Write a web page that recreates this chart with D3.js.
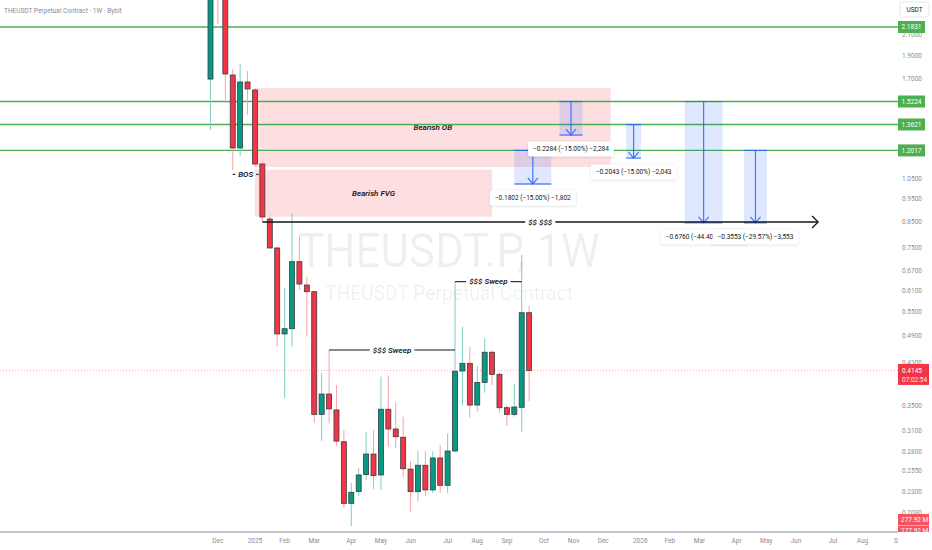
<!DOCTYPE html>
<html>
<head>
<meta charset="utf-8">
<script src="https://cdn.jsdelivr.net/npm/d3@7"></script>
<style>
  html, body { margin: 0; padding: 0; background: #ffffff; }
  svg { display: block; font-family: Roboto, "Liberation Sans", Arial, sans-serif; }
</style>
</head>
<body>
<script>
// ---------------- DATA ----------------
const firstWeek = "2024-11-25";             // Monday of the first weekly bar
const opens  = [1.697, 3.2, 2.6, 1.7308, 1.2158, 1.6731, 1.6096, 1.1252, 0.8624, 0.7495,
                0.4945, 0.5072, 0.7014, 0.6266, 0.6067, 0.3351, 0.3698, 0.3424, 0.2936, 0.2179,
                0.2306, 0.2504, 0.2766, 0.2500, 0.3435, 0.3122, 0.3000, 0.2572, 0.2306, 0.2620,
                0.2325, 0.2714, 0.2378, 0.2807, 0.4133, 0.4290, 0.3506, 0.3912, 0.4526, 0.4067,
                0.3461, 0.3351, 0.3468, 0.5480];
const highs  = [3.5, 3.9, 2.8, 1.7817, 1.8253, 1.7646, 1.6253, 1.14, 0.8791, 0.753,
                0.6176, 0.8877, 0.7942, 0.6523, 0.608, 0.4089, 0.4576, 0.3862, 0.3107, 0.2404,
                0.2585, 0.3076, 0.3107, 0.4022, 0.4041, 0.3552, 0.3314, 0.2674, 0.2807, 0.2804,
                0.2802, 0.2890, 0.3057, 0.6368, 0.5122, 0.4637, 0.4235, 0.4842, 0.457, 0.411,
                0.350, 0.3882, 0.7246, 0.5661];
const lows   = [1.3265, 2.215, 1.5334, 1.0929, 1.1695, 1.4262, 1.1090, 0.8499, 0.747, 0.4650,
                0.3626, 0.4650, 0.6117, 0.4879, 0.3218, 0.2950, 0.3209, 0.2875, 0.2130, 0.1952,
                0.2257, 0.244, 0.2336, 0.2325, 0.2866, 0.2845, 0.2478, 0.2092, 0.2207, 0.2257,
                0.2291, 0.2291, 0.2289, 0.279, 0.3506, 0.3297, 0.3395, 0.3722, 0.3862, 0.3377,
                0.3168, 0.3314, 0.3081, 0.3576];
const closes = [3.2, 2.6, 1.739, 1.2158, 1.6731, 1.6173, 1.1252, 0.8707, 0.7495, 0.4945,
                0.5072, 0.7014, 0.6296, 0.6067, 0.3351, 0.3698, 0.3441, 0.2945, 0.2179, 0.2299,
                0.2500, 0.2766, 0.2491, 0.3435, 0.3122, 0.3008, 0.2576, 0.2306, 0.2620, 0.2325,
                0.2714, 0.2378, 0.2807, 0.4128, 0.4290, 0.3506, 0.3912, 0.4526, 0.4067, 0.3461,
                0.3351, 0.3473, 0.5480, 0.4145];

const priceTicks = [2.1000, 1.9000, 1.7000, 1.0500, 0.9500, 0.8500, 0.7500, 0.6700, 0.6100,
                    0.5500, 0.4900, 0.4300, 0.3500, 0.3100, 0.2800, 0.2550, 0.2300, 0.2080];
const keyLevels = [2.1831, 1.5224, 1.3621, 1.2017];
const monthLabels = ["Dec","2025","Feb","Mar","Apr","May","Jun","Jul","Aug","Sep","Oct","Nov",
                     "Dec","2026","Feb","Mar","Apr","May","Jun","Jul","Aug","Sep"];
const lastPrice = 0.4145;
const countdown = "07:02:54";
const volumeLabel = "277.92 M";

// zones
const zoneLabels = ["Bearish OB", "Bearish FVG"];
const zoneFrom   = [6, 6];
const zoneTo     = [54, 38];
const zoneTop    = [1.625, 1.095];
const zoneBottom = [1.109, 0.872];

// horizontal marks: label, level, fromBar, toBar
const markLabels = ["BOS", "$$$ Sweep", "$$$ Sweep", "$$ $$$"];
const markLevel  = [1.07, 0.4576, 0.6368, 0.8499];
const markFrom   = [3, 16, 33, 7];
const markTo     = [6.5, 33, 42, 82];

// projection tools (short positions): entry, target, fromBar, toBar
const projEntry  = [1.2017, 1.5224, 1.3621, 1.5224, 1.2017];
const projTarget = [1.0215, 1.2940, 1.1578, 0.8464, 0.8464];
const projFrom   = [41, 47.1, 56.1, 64, 72];
const projTo     = [46, 50.2, 58.1, 69.1, 75.1];

// ---------------- LAYOUT ----------------
const W = 932, H = 550;
const plotR = 898, plotB = 532;

const svg = d3.select("body").append("svg").attr("width", W).attr("height", H);
svg.append("rect").attr("width", W).attr("height", H).attr("fill", "#fff");

const defs = svg.append("defs");
defs.append("clipPath").attr("id", "plotClip").append("rect")
  .attr("x", 0).attr("y", 0).attr("width", plotR).attr("height", plotB);
defs.append("clipPath").attr("id", "axisClip").append("rect")
  .attr("x", 0).attr("y", 0).attr("width", plotR).attr("height", H);
defs.append("clipPath").attr("id", "rightClip").append("rect")
  .attr("x", plotR).attr("y", 0).attr("width", W - plotR).attr("height", plotB);
const flt = defs.append("filter").attr("id", "shadow").attr("x", "-20%").attr("y", "-40%")
  .attr("width", "140%").attr("height", "180%");
flt.append("feDropShadow").attr("dx", 0).attr("dy", 0.5).attr("stdDeviation", 1)
  .attr("flood-color", "#000").attr("flood-opacity", 0.18);

const x = d3.scaleLinear().domain([0, 93]).range([210.5, 899.6]);
const y = d3.scaleLog().domain([0.1897, 2.4876]).range([plotB, 0]);

const candles = opens.map((o, i) => ({ i, o, h: highs[i], l: lows[i], c: closes[i] }));

const plot = svg.append("g").attr("clip-path", "url(#plotClip)");

// watermark
const cx = plotR / 2;
plot.append("text").attr("x", cx).attr("y", 267).attr("text-anchor", "middle")
  .attr("font-size", 48).attr("fill", "#000").attr("fill-opacity", 0.065)
  .attr("textLength", 302).attr("lengthAdjust", "spacingAndGlyphs")
  .text("THEUSDT.P, 1W");
plot.append("text").attr("x", cx).attr("y", 300).attr("text-anchor", "middle")
  .attr("font-size", 21).attr("fill", "#000").attr("fill-opacity", 0.065)
  .attr("textLength", 248).attr("lengthAdjust", "spacingAndGlyphs")
  .text("THEUSDT Perpetual Contract");

// zones
zoneLabels.forEach((lab, k) => {
  const x0 = x(zoneFrom[k]), x1 = x(zoneTo[k]);
  const y0 = y(zoneTop[k]), y1 = y(zoneBottom[k]);
  plot.append("rect").attr("x", x0).attr("y", y0).attr("width", x1 - x0).attr("height", y1 - y0)
    .attr("fill", "rgba(242,54,69,0.16)");
});
zoneLabels.forEach((lab, k) => {
  const ym = y(Math.sqrt(zoneTop[k] * zoneBottom[k]));
  plot.append("text").attr("x", (x(zoneFrom[k]) + x(zoneTo[k])) / 2).attr("y", ym)
    .attr("dy", "0.35em").attr("text-anchor", "middle")
    .attr("font-size", 8).attr("font-style", "italic").attr("font-weight", 600)
    .attr("fill", "#131722").text(lab);
});

// key level lines
keyLevels.forEach(v => {
  plot.append("line").attr("x1", 0).attr("x2", plotR).attr("y1", y(v)).attr("y2", y(v))
    .attr("stroke", "#4caf50").attr("stroke-width", 1.4);
});

// last price dotted line
plot.append("line").attr("x1", 0).attr("x2", plotR).attr("y1", y(lastPrice)).attr("y2", y(lastPrice))
  .attr("stroke", "#f23645").attr("stroke-opacity", 0.55).attr("stroke-width", 0.8)
  .attr("stroke-dasharray", "1,2");

// projection boxes
const blue = "#2962ff";
projEntry.forEach((e, k) => {
  const x0 = x(projFrom[k]), x1 = x(projTo[k]), xm = (x0 + x1) / 2;
  const yE = y(e), yT = y(projTarget[k]);
  plot.append("rect").attr("x", x0).attr("y", yE).attr("width", x1 - x0).attr("height", yT - yE)
    .attr("fill", "rgba(41,98,255,0.15)");
  plot.append("line").attr("x1", x0).attr("x2", x1).attr("y1", yE).attr("y2", yE)
    .attr("stroke", blue).attr("stroke-opacity", 0.75).attr("stroke-width", 1.2);
  plot.append("line").attr("x1", x0).attr("x2", x1).attr("y1", yT).attr("y2", yT)
    .attr("stroke", blue).attr("stroke-opacity", 0.75).attr("stroke-width", 1.4);
  plot.append("line").attr("x1", xm).attr("x2", xm).attr("y1", yE).attr("y2", yT)
    .attr("stroke", blue).attr("stroke-opacity", 0.85).attr("stroke-width", 1.2);
  plot.append("path").attr("d", `M${xm - 5},${yT - 6}L${xm},${yT}L${xm + 5},${yT - 6}`)
    .attr("fill", "none").attr("stroke", blue).attr("stroke-opacity", 0.85).attr("stroke-width", 1.2);
});

// candles
const green = "#089981", red = "#f23645";
const bw = 5;
const cg = plot.append("g");
cg.selectAll("line.wick").data(candles).join("line").attr("class", "wick")
  .attr("x1", d => x(d.i)).attr("x2", d => x(d.i))
  .attr("y1", d => y(d.h)).attr("y2", d => y(d.l))
  .attr("stroke", d => d.c >= d.o ? "#7fd0bf" : "#f6a3a9").attr("stroke-width", 1);
cg.selectAll("rect.body").data(candles).join("rect").attr("class", "body")
  .attr("x", d => x(d.i) - bw / 2).attr("width", bw)
  .attr("y", d => y(Math.max(d.o, d.c)))
  .attr("height", d => Math.max(1, Math.abs(y(d.o) - y(d.c))))
  .attr("fill", d => d.c >= d.o ? green : red)
  .attr("stroke", "#3a3d45").attr("stroke-width", 0.8);

// horizontal marks with labels
markLabels.forEach((lab, k) => {
  const x0 = x(markFrom[k]), x1 = x(markTo[k]), yy = y(markLevel[k]);
  const xm = (x0 + x1) / 2;
  const t = plot.append("text").attr("x", xm).attr("y", yy).attr("dy", "0.35em")
    .attr("text-anchor", "middle").attr("font-size", 8).attr("font-style", "italic")
    .attr("font-weight", 600).attr("fill", "#131722").text(lab);
  const tw = t.node().getComputedTextLength();
  const gap = tw / 2 + 3;
  const sw = k === 3 ? 1.5 : 1.1;
  plot.append("line").attr("x1", x0).attr("x2", xm - gap).attr("y1", yy).attr("y2", yy)
    .attr("stroke", "#131722").attr("stroke-width", sw);
  plot.append("line").attr("x1", xm + gap).attr("x2", x1).attr("y1", yy).attr("y2", yy)
    .attr("stroke", "#131722").attr("stroke-width", sw);
  if (k === 3) {
    plot.append("path").attr("d", `M${x1 - 6},${yy - 6}L${x1},${yy}L${x1 - 6},${yy + 6}`)
      .attr("fill", "none").attr("stroke", "#131722").attr("stroke-width", 1.3);
  }
});

// projection labels
const fmtP = d3.format(".4f");
const fmtPct = d3.format(".2f");
const fmtT = d3.format(",d");
projEntry.forEach((e, k) => {
  const diff = projTarget[k] - e;
  const pct = diff / e * 100;
  const ticks = Math.round(diff * 10000);
  const m = "\u2212";
  const txt = `${m}${fmtP(Math.abs(diff))} (${m}${fmtPct(Math.abs(pct))}%) ${m}${fmtT(Math.abs(ticks))}`;
  const xm = (x(projFrom[k]) + x(projTo[k])) / 2;
  const yT = y(projTarget[k]);
  const g = plot.append("g");
  const r = g.append("rect").attr("rx", 2).attr("fill", "#fff").attr("filter", "url(#shadow)");
  const t = g.append("text").attr("x", xm).attr("y", yT + 14).attr("dy", "0.35em")
    .attr("text-anchor", "middle").attr("font-size", 6.5).attr("fill", "#131722").text(txt);
  const tw = t.node().getComputedTextLength();
  r.attr("x", xm - tw / 2 - 5).attr("width", tw + 10).attr("y", yT + 6.5).attr("height", 15);
});

// ---------------- AXES ----------------
svg.append("line").attr("x1", 0).attr("x2", plotR).attr("y1", plotB).attr("y2", plotB)
  .attr("stroke", "#8a8d94").attr("stroke-width", 1);

// month ticks: first weekly bar of each month
const t0 = d3.utcParse("%Y-%m-%d")(firstWeek);
const months = d3.utcMonth.range(new Date(Date.UTC(2024, 11, 1)), new Date(Date.UTC(2026, 8, 2)));
const xg = svg.append("g").attr("clip-path", "url(#axisClip)");
months.forEach((mDate, j) => {
  const days = Math.round((mDate - t0) / 86400000);
  const idx = Math.ceil(days / 7);
  xg.append("text").attr("x", x(idx)).attr("y", 541).attr("dy", "0.35em")
    .attr("text-anchor", "middle").attr("font-size", 6.5).attr("fill", "#8a8d94")
    .text(monthLabels[j]);
});

// price axis labels
const rg = svg.append("g");
priceTicks.forEach(v => {
  rg.append("text").attr("x", 912).attr("y", y(v)).attr("dy", "0.35em")
    .attr("text-anchor", "middle").attr("font-size", 6.5).attr("fill", "#8a8d94")
    .text(d3.format(".4f")(v));
});

// USDT unit box
rg.append("rect").attr("x", 900).attr("y", 2).attr("width", 29).attr("height", 15)
  .attr("fill", "#fff").attr("stroke", "#e0e3eb").attr("stroke-width", 0.8).attr("rx", 2);
rg.append("text").attr("x", 914.5).attr("y", 9.5).attr("dy", "0.35em").attr("text-anchor", "middle")
  .attr("font-size", 6.5).attr("fill", "#131722").text("USDT");

// key level labels
keyLevels.forEach(v => {
  rg.append("rect").attr("x", plotR).attr("y", y(v) - 6).attr("width", 27).attr("height", 12)
    .attr("fill", "#4caf50");
  rg.append("text").attr("x", plotR + 13.5).attr("y", y(v)).attr("dy", "0.35em")
    .attr("text-anchor", "middle").attr("font-size", 6.5).attr("fill", "#fff")
    .text(d3.format(".4f")(v));
});

// last price label
const yl = y(lastPrice);
rg.append("rect").attr("x", plotR).attr("y", yl - 6.5).attr("width", 31).attr("height", 21)
  .attr("fill", red);
rg.append("text").attr("x", plotR + 4).attr("y", yl).attr("dy", "0.35em")
  .attr("font-size", 6.5).attr("fill", "#fff").text(d3.format(".4f")(lastPrice));
rg.append("text").attr("x", plotR + 4).attr("y", yl + 9).attr("dy", "0.35em")
  .attr("font-size", 6.5).attr("fill", "#fff").attr("fill-opacity", 0.9).text(countdown);

// volume labels
const vg = svg.append("g").attr("clip-path", "url(#rightClip)");
[0, 1].forEach(j => {
  const top = 514 + j * 11.5;
  vg.append("rect").attr("x", plotR).attr("y", top).attr("width", 31).attr("height", 11)
    .attr("fill", "#f6525f");
  vg.append("text").attr("x", plotR + 3).attr("y", top + 5.5).attr("dy", "0.35em")
    .attr("font-size", 6.5).attr("fill", "#fff").text(volumeLabel);
});

// title
svg.append("text").attr("x", 4).attr("y", 10.5).attr("dy", "0.35em")
  .attr("font-size", 6.5).attr("fill", "#8a8d94")
  .text("THEUSDT Perpetual Contract \u00b7 1W \u00b7 Bybit");
</script>
</body>
</html>
